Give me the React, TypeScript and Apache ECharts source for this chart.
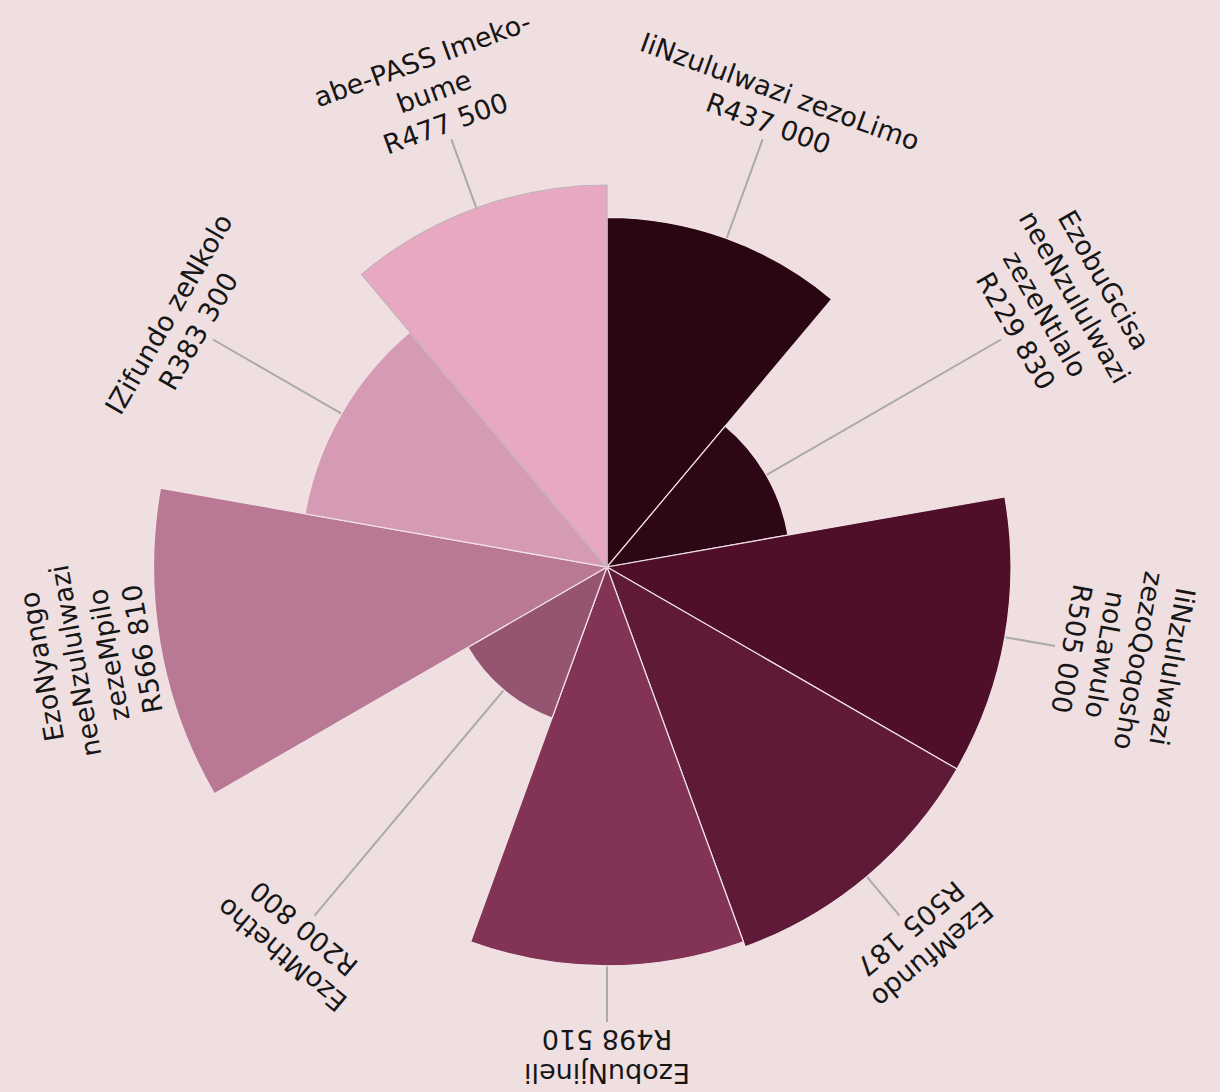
import React, { useEffect, useRef } from "react";
import * as echarts from "echarts";

const categories: string[] = [
  "IiNzululwazi zezoLimo",
  "EzobuGcisa neeNzululwazi zezeNtlalo",
  "IiNzululwazi zezoQoqosho noLawulo",
  "EzeMfundo",
  "EzobuNjineli",
  "EzoMthetho",
  "EzoNyango neeNzululwazi zezeMpilo",
  "IZifundo zeNkolo",
  "abe-PASS Imeko-bume",
];

const labelLines: string[][] = [
  ["IiNzululwazi zezoLimo"],
  ["EzobuGcisa", "neeNzululwazi", "zezeNtlalo"],
  ["IiNzululwazi", "zezoQoqosho", "noLawulo"],
  ["EzeMfundo"],
  ["EzobuNjineli"],
  ["EzoMthetho"],
  ["EzoNyango", "neeNzululwazi", "zezeMpilo"],
  ["IZifundo zeNkolo"],
  ["abe-PASS Imeko-", "bume"],
];

const values: number[] = [437000, 229830, 505000, 505187, 498510, 200800, 566810, 383300, 477500];

const colors: string[] = [
  "#2a0613",
  "#2e0717",
  "#4f0f29",
  "#5e1a36",
  "#833456",
  "#955571",
  "#b97994",
  "#d59bb5",
  "#e8a8c1",
];

const BG = "#efdfe1";
const LINE_END_R = 455;
const TEXT_R = 455;
const FONT_SIZE = 27;
const LINE_HEIGHT = 34;

function formatRand(v: number): string {
  return "R" + String(v).replace(/\B(?=(\d{3})+(?!\d))/g, " ");
}

export default function App() {
  const ref = useRef<HTMLDivElement>(null);
  useEffect(() => {
    if (!ref.current) return;
    const chart = echarts.init(ref.current, undefined, { renderer: "svg" });
    const option: any = {
      animation: false,
      backgroundColor: BG,
      polar: { center: [607, 567], radius: 480 },
      angleAxis: {
        type: "category",
        data: categories,
        startAngle: 90,
        clockwise: true,
        axisLine: { show: false },
        axisTick: { show: false },
        axisLabel: { show: false },
        splitLine: { show: false },
      },
      radiusAxis: {
        type: "value",
        min: 0,
        max: 600000,
        axisLine: { show: false },
        axisTick: { show: false },
        axisLabel: { show: false },
        splitLine: { show: false },
      },
      series: [
        {
          type: "bar",
          coordinateSystem: "polar",
          barCategoryGap: "0%",
          data: values.map((v, i) => ({
            value: v,
            itemStyle: {
              color: colors[i],
              borderColor: i === values.length - 1 ? "#c2b2b8" : "#f2e2e6",
              borderWidth: 1.2,
            },
          })),
        },
        {
          type: "custom",
          coordinateSystem: "polar",
          clip: false,
          silent: true,
          encode: { radius: 0, angle: 1 },
          data: values.map((v, i) => [v, categories[i]]),
          renderItem: (params: any, api: any) => {
            const i = params.dataIndex;
            const val = api.value(0);
            const c = api.coord([0, i]);
            const e = api.coord([val, i]);
            const dx = e[0] - c[0];
            const dy = e[1] - c[1];
            const len = Math.sqrt(dx * dx + dy * dy) || 1;
            const ux = dx / len;
            const uy = dy / len;
            const theta = Math.atan2(ux, -uy);
            const children: any[] = [];
            if (LINE_END_R - len > 6) {
              children.push({
                type: "line",
                shape: {
                  x1: e[0],
                  y1: e[1],
                  x2: c[0] + ux * LINE_END_R,
                  y2: c[1] + uy * LINE_END_R,
                },
                style: { stroke: "#aaaaaa", lineWidth: 2 },
              });
            }
            const text = labelLines[i].concat([formatRand(values[i])]).join("\n");
            children.push({
              type: "text",
              x: c[0] + ux * TEXT_R,
              y: c[1] + uy * TEXT_R,
              rotation: -theta,
              style: {
                text,
                fill: "#161616",
                fontSize: FONT_SIZE,
                fontFamily: "DejaVu Sans",
                lineHeight: LINE_HEIGHT,
                align: "center",
                verticalAlign: "bottom",
              },
            });
            return { type: "group", children };
          },
        },
      ],
    };
    chart.setOption(option);
    return () => chart.dispose();
  }, []);
  return (
    <div
      ref={ref}
      style={{ position: "absolute", left: 0, top: 0, width: 1220, height: 1092, background: BG }}
    />
  );
}
